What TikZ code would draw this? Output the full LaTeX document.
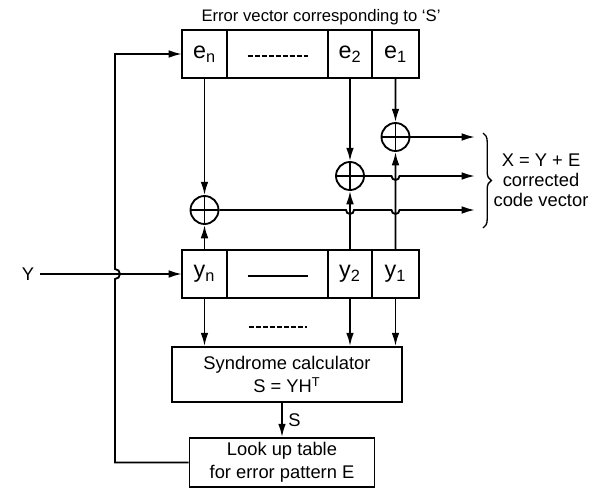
\documentclass[tikz,border=0pt]{standalone}
\usepackage{fontspec}
\setmainfont{Liberation Sans}
\usetikzlibrary{arrows.meta,calc,positioning,decorations.pathreplacing}

\begin{document}
\begin{tikzpicture}[x=0.6pt, y=-0.6pt,
    trait/.style={line width=1.1pt},
    fleche/.style={trait, -{Latex[length=8pt,width=4.6pt]}},
    cellule/.style={draw, line width=1.1pt, outer sep=0pt, inner sep=0pt,
        minimum height=28.8pt, font=\fontsize{14}{16}\selectfont},
    boite/.style={draw, line width=1.1pt, align=center, inner sep=0pt,
        font=\fontsize{11}{14}\selectfont},
    ouex/.style={circle, draw, line width=1.1pt, minimum size=16.8pt, inner sep=0pt,
        path picture={\draw[line width=0.9pt]
            (path picture bounding box.north) -- (path picture bounding box.south)
            (path picture bounding box.west) -- (path picture bounding box.east);}},
    texte/.style={font=\fontsize{11}{12}\selectfont}]
    \useasboundingbox (0,0) rectangle (600,493);

    % Vecteur d'erreur
    \node[font=\fontsize{10}{12}\selectfont] (titre) at (321,17) {Error vector corresponding to `S'};
    \node[cellule, minimum width=27pt] (en) at (204.5,54) {e\textsubscript{n}};
    \node[cellule, minimum width=60.6pt, right=0pt of en] (ed) {};
    \node[cellule, minimum width=26.4pt, right=0pt of ed] (e2) {e\textsubscript{2}};
    \node[cellule, minimum width=28.2pt, right=0pt of e2] (e1) {e\textsubscript{1}};
    \draw[trait, dash pattern=on 3pt off 1.2pt] ($(ed.center)+(-30,2)$) -- ++(60,0);

    % Vecteur recu Y
    \node[cellule, minimum width=27pt] (yn) at (204.5,274) {y\textsubscript{n}};
    \node[cellule, minimum width=60.6pt, right=0pt of yn] (yd) {};
    \node[cellule, minimum width=26.4pt, right=0pt of yd] (y2) {y\textsubscript{2}};
    \node[cellule, minimum width=28.2pt, right=0pt of y2] (y1) {y\textsubscript{1}};
    \draw[trait] ($(yd.center)+(-30,2)$) -- ++(60,0);
    \draw[trait, dash pattern=on 3pt off 1.2pt] ($(yd.south)+(-29,29)$) -- ++(58,0);

    % Additionneurs modulo 2
    \node[ouex] (x1) at (395.5,137) {};
    \node[ouex] (x2) at (350,176) {};
    \node[ouex] (xn) at (204.5,210) {};

    % Syndrome et table
    \node[boite, minimum width=138pt, minimum height=33pt] (synd) at (287,374.5) {Syndrome calculator\\S = YH\textsuperscript{T}};
    \node[boite, minimum width=111pt, minimum height=29.4pt] (look) at (282,462.5) {Look up table\\for error pattern E};

    % Entree Y et retour
    \node[texte] (yin) at (28,274) {Y};
    \draw[fleche] (yin) -- (yn);
    \draw[fleche] (look.west) -| (115,279) arc(90:-90:5) |- (en.west);

    % Liaisons verticales
    \draw[fleche] (en) -- (xn);
    \draw[fleche] (e2) -- (x2);
    \draw[fleche] (e1) -- (x1);
    \draw[fleche] (yn) -- (xn);
    \draw[fleche] (y2) -- (x2);
    \draw[fleche] (y1) -- (x1);
    \draw[fleche] (yn.south) -- (yn.south |- synd.north);
    \draw[fleche] (y2.south) -- (y2.south |- synd.north);
    \draw[fleche] (y1.south) -- (y1.south |- synd.north);
    \draw[fleche] (look.north |- synd.south) -- (look.north) node[midway, right, texte] {S};

    % Sorties X = Y + E
    \coordinate (o1) at (475,137);
    \coordinate (o2) at (475,176);
    \coordinate (on) at (475,210);
    \draw[fleche] (x1) -- (o1);
    \draw[fleche] (x2) -- ($(y1.north |- x2.east)+(-4,0)$) arc(180:0:4) -- (o2);
    \draw[fleche] (xn) -- ($(y2.north |- xn.east)+(-4,0)$) arc(180:0:4)
        -- ($(y1.north |- xn.east)+(-4,0)$) arc(180:0:4) -- (on);
    \draw[decorate, decoration={brace, amplitude=5pt}, line width=0.8pt] (483,133) -- (483,228);
    \node[texte, align=center] (xeq) at (541,180) {X = Y + E\\corrected\\code vector};
\end{tikzpicture}
\end{document}
